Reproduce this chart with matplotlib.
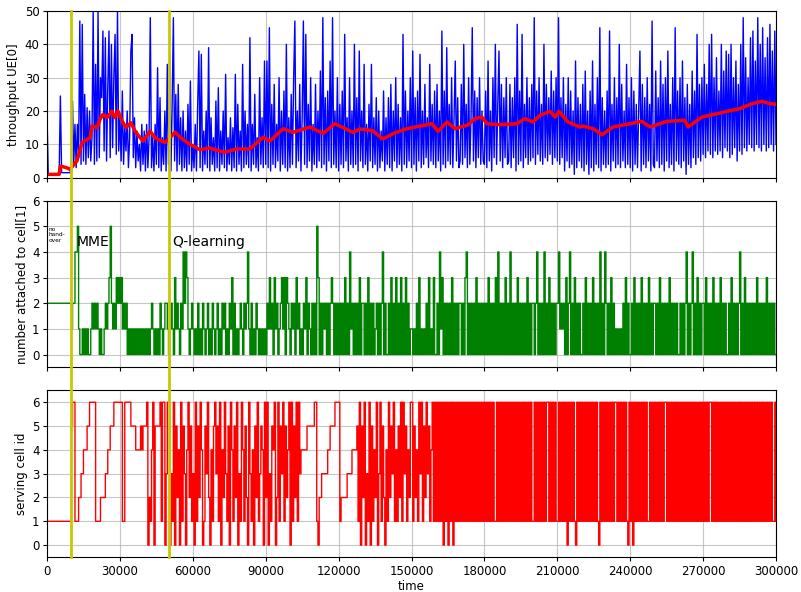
import numpy as np
import matplotlib
matplotlib.use("Agg")
import matplotlib.pyplot as plt
from matplotlib.lines import Line2D
from matplotlib.transforms import blended_transform_factory

# ---------------- data (sampled every 500 time units) ----------------
SAMPLE_STEP = 500

throughput = [
    19, 1, 1, 1, 1, 1, 1, 1, 1, 1, 1, 24.5, 1.5, 1.5, 1.5, 1.5, 1.5, 1.5, 1.5, 1.5,
    3, 23, 4, 16, 3, 16, 6, 47, 4, 46, 5, 25, 4, 21, 6, 20, 5, 12, 50, 4,
    34, 5, 50, 6, 30, 24, 44, 8, 42, 5, 27, 44, 6, 40, 9, 30, 43, 7, 50, 8,
    18, 5, 26, 4, 15, 8, 20, 3, 12, 38, 43, 6, 18, 3, 14, 5, 10, 2, 16, 4,
    14, 2, 16, 3, 12, 48, 3, 12, 2, 16, 4, 33, 3, 24, 2, 12, 4, 20, 2, 34,
    4, 37, 2, 22, 48, 5, 25, 2, 28, 4, 18, 2, 20, 3, 14, 2, 22, 4, 29, 2,
    10, 3, 16, 2, 22, 38, 3, 37, 2, 14, 4, 20, 3, 39, 2, 18, 4, 12, 2, 23,
    3, 27, 2, 14, 4, 20, 3, 31, 2, 12, 4, 18, 2, 15, 3, 31, 2, 22, 4, 14,
    2, 34, 3, 20, 4, 16, 3, 42, 2, 16, 4, 25, 3, 12, 2, 30, 4, 18, 3, 35,
    4, 35, 3, 45, 2, 22, 4, 28, 3, 16, 5, 30, 2, 20, 4, 26, 3, 40, 2, 18,
    3, 25, 4, 30, 47, 3, 20, 5, 28, 2, 18, 47, 4, 43, 3, 22, 5, 30, 2, 16,
    4, 28, 3, 20, 5, 32, 3, 48, 4, 24, 2, 26, 5, 35, 3, 48, 4, 20, 3, 30,
    2, 22, 4, 26, 3, 43, 5, 18, 2, 30, 4, 20, 3, 40, 4, 24, 2, 38, 5, 20,
    3, 34, 4, 16, 2, 22, 5, 34, 3, 18, 4, 24, 2, 20, 3, 14, 5, 26, 2, 18,
    4, 24, 3, 28, 2, 20, 5, 30, 3, 22, 4, 18, 2, 43, 4, 26, 3, 20, 5, 30,
    3, 38, 4, 24, 2, 26, 5, 37, 3, 20, 4, 28, 6, 18, 3, 34, 5, 22, 4, 26,
    3, 28, 5, 20, 2, 44, 4, 26, 3, 39, 5, 22, 4, 30, 3, 18, 35, 5, 24, 3,
    5, 28, 4, 40, 6, 22, 3, 30, 4, 18, 45, 5, 26, 3, 24, 6, 30, 4, 20, 5,
    4, 26, 3, 35, 5, 20, 2, 30, 6, 40, 4, 22, 38, 5, 28, 3, 24, 6, 30, 4,
    5, 28, 3, 24, 6, 30, 2, 46, 4, 26, 5, 43, 3, 22, 6, 30, 4, 24, 5, 28,
    6, 48, 4, 26, 7, 30, 5, 22, 4, 40, 6, 28, 5, 24, 7, 32, 4, 26, 6, 30,
    5, 48, 4, 24, 6, 30, 2, 22, 5, 30, 3, 26, 4, 20, 1, 35, 3, 24, 5, 22,
    3, 28, 2, 32, 4, 20, 1, 26, 3, 35, 2, 22, 4, 30, 3, 45, 2, 24, 4, 20,
    3, 26, 4, 44, 2, 22, 5, 30, 3, 24, 4, 40, 3, 28, 5, 20, 3, 34, 4, 24,
    3, 30, 2, 26, 4, 22, 3, 20, 38, 2, 28, 4, 24, 3, 30, 5, 22, 2, 47, 4,
    3, 32, 5, 24, 3, 35, 4, 28, 2, 30, 5, 38, 3, 22, 4, 30, 2, 45, 5, 26,
    4, 30, 3, 35, 5, 24, 1, 28, 4, 22, 3, 32, 6, 26, 4, 43, 6, 28, 5, 30,
    7, 34, 6, 28, 8, 40, 7, 43, 6, 30, 8, 36, 7, 26, 8, 40, 6, 32, 9, 38,
    8, 37, 6, 40, 7, 30, 9, 35, 5, 28, 8, 40, 7, 48, 9, 36, 8, 30, 10, 42,
    9, 44, 8, 35, 10, 48, 9, 40, 8, 45, 10, 36, 8, 42, 9, 46, 10, 38, 8, 44,
    10,
]

avg_time = [0, 5000, 5500, 8000, 9500, 12300, 14400, 17700, 18500, 20600, 21800,
            23000, 24700, 26700, 27900, 29200, 30900, 32500, 34500, 36200, 38300,
            39500, 42400, 44400, 48500, 50600, 52700, 55000, 58800, 63000, 67000,
            73000, 77900, 83500, 88900, 91800, 97100, 101200, 108200, 113600,
            118500, 125900, 128800, 134000, 138200, 142300, 148100, 158400,
            160900, 164600, 167900, 173200, 176100, 179000, 181000, 186400,
            193400, 196700, 200000, 202900, 207000, 209100, 210700, 214400,
            219300, 220600, 224700, 228400, 232900, 239900, 244800, 248100,
            255100, 262500, 263800, 269500, 274000, 279800, 285100, 290100,
            294200, 297500, 300000]
avg_value = [1, 1, 3.5, 3, 2.5, 5, 10.5, 12, 15.5, 15, 17.5,
             19, 18, 20, 18, 20, 17, 15, 16.5, 14, 12,
             11, 14, 12, 10.5, 12, 13.6, 12, 10, 8.4, 8.9,
             7.6, 8.6, 8.6, 12.1, 11, 14.7, 13.6, 15.2, 13.3,
             16.2, 13.6, 14.6, 14.1, 11.6, 13.2, 14.7, 16.2,
             13.9, 16.7, 14.7, 15.8, 17.7, 18.2, 16.2, 15.9,
             16.2, 17.7, 16.7, 18.7, 19.9, 18.2, 19.9, 16.7,
             15.2, 15.5, 14.7, 12.9, 15.2, 16.2, 16.9, 15.2,
             16.9, 17.2, 15.2, 18.2, 18.9, 19.9, 20.7, 22.2,
             22.9, 22.2, 22]

attached_chunks = [
    "22222222222222222222", "12244510010101001212", "12101001212352121323",
    "23121201010101010101", "01010121010102101221", "01210312102142431012",
    "10102010210120102101", "20102120102130201012", "10212410201021010101",
    "02131203120123130321", "02120312010213021020", "20530202120202320202",
    "02020302041202020302", "20203020201202024020", "02030203020302030201",
    "10102030101020301030", "02041302020203020202", "20203402020203020202",
    "02030202030402020302", "04020203020202030202", "20240202040203020202",
    "24121203024020302020", "02030202030202040204", "20203020101010203020",
    "02030202030202030202", "20203020202030202020", "02020240202402030202",
    "20302020302020302020", "02030202024020302020", "20203020202030202020",
    "0",
]

cell_chunks = [
    "11111111111111111111", "56611122334445566666", "11112222334455566666",
    "66116666655554444545", "55602146055556166036", "60316052406153046251",
    "30615264015362041563", "51604263150641526031", "64152063140526135406",
    "26031546026153615246", "06152616344444555555", "66102233333445555666",
    "61222223333444451605", "26031605142603615204", "16253614152616351426",
    "61524163615263514616", "16161606160616061616", "16161616161616161616",
    "16161616116161616161", "61616161616161616161", "16161616161661616161",
    "16161616061616106161", "61616161616161061616", "16161616616161616106",
    "16061616161616116161", "61616161661616161616", "16161616161616161616",
    "16161661616161616161", "61616161616161616161", "61616161616161616116",
    "1",
]

phase_marks = [10000, 50000]
phase_labels = ["MME", "Q-learning"]

# ---------------- figure ----------------
fig, axes = plt.subplots(3, 1, figsize=(8.01, 5.92), dpi=100, sharex=True)
fig.subplots_adjust(left=0.0587, right=0.9688, top=0.9814, bottom=0.0591, hspace=0.138)
ax1, ax2, ax3 = axes
FS = 8.5

thr = np.array(throughput, dtype=float)
t_thr = np.arange(len(thr)) * SAMPLE_STEP
ax1.plot(t_thr, thr, color="b", lw=1.0)
ax1.plot(avg_time, avg_value, color="r", lw=2.5)
ax1.set_ylim(0, 50)
ax1.set_yticks(range(0, 51, 10))
ax1.set_ylabel("throughput UE[0]", fontsize=FS, labelpad=3)

att = np.array([int(c) for c in "".join(attached_chunks)])
t_att = np.arange(len(att)) * SAMPLE_STEP
ax2.plot(t_att, att, color="g", lw=1.0, drawstyle="steps-post")
ax2.set_ylim(-0.5, 6)
ax2.set_yticks(range(0, 7))
ax2.set_ylabel("number attached to cell[1]", fontsize=FS, labelpad=3)

cell = np.array([int(c) for c in "".join(cell_chunks)])
t_cell = np.arange(len(cell)) * SAMPLE_STEP
ax3.plot(t_cell, cell, color="r", lw=1.0, drawstyle="steps-post")
ax3.set_ylim(-0.5, 6.5)
ax3.set_yticks(range(0, 7))
ax3.set_ylabel("serving cell id", fontsize=FS, labelpad=3)
ax3.set_xlabel("time", fontsize=FS, labelpad=2)

ax3.set_xlim(0, 300000)
ax3.set_xticks(range(0, 300001, 30000))

for ax in axes:
    ax.grid(True, color="#b0b0b0", lw=0.8, alpha=0.7)
    ax.set_axisbelow(True)
    ax.tick_params(labelsize=FS, length=2.9, pad=2.5)

ax2.text(500, 4.97, "no\nhand-\nover", fontsize=4.2, va="top", ha="left", linespacing=1.1)
ax2.text(12000, 4.4, phase_labels[0], fontsize=10, va="center", ha="left")
ax2.text(51500, 4.4, phase_labels[1], fontsize=10, va="center", ha="left")

trans = blended_transform_factory(ax3.transData, fig.transFigure)
for xm in phase_marks:
    fig.add_artist(Line2D([xm, xm], [0.0591, 0.9814], transform=trans,
                          color="#c8c800", lw=2, zorder=10))

fig.savefig("out.png", dpi=100)
